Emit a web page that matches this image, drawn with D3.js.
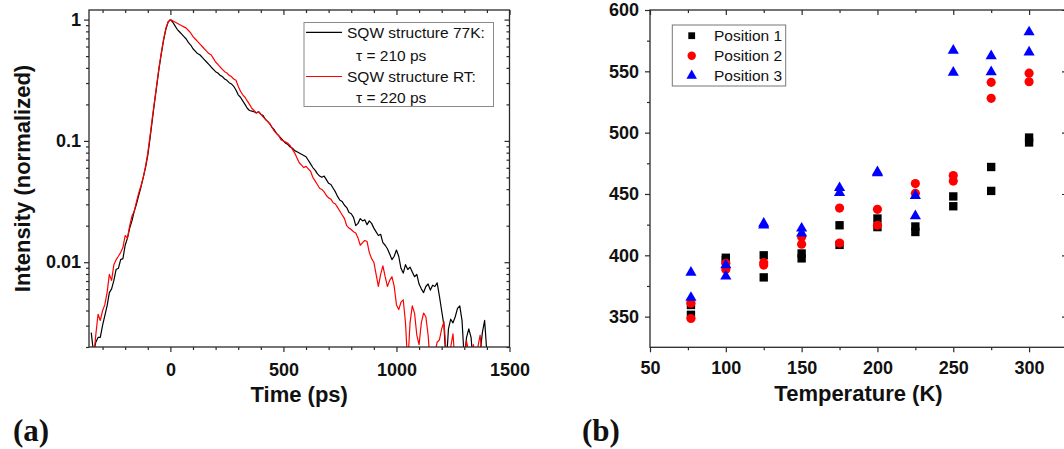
<!DOCTYPE html>
<html>
<head>
<meta charset="utf-8">
<script src="https://cdn.jsdelivr.net/npm/d3@7"></script>
<style>
  html, body { margin: 0; padding: 0; background: #fff; }
  svg { display: block; font-family: "Liberation Sans", Arial, sans-serif; }
</style>
</head>
<body>
<script>
// ---------------- Panel (a) data: time-resolved PL decay ----------------
const timeStartPs = -350;   // first sample time (ps)
const timeStepPs = 10;      // sampling interval (ps)

const intensity77K = [
  0.00263, 0.00178, 0.00219, 0.0024, 0.0024, 0.00302, 0.00363, 0.00437, 0.00562, 0.00603,
  0.00708, 0.00871, 0.00891, 0.0105, 0.0107, 0.0138, 0.0158, 0.0191, 0.0219, 0.0263,
  0.0302, 0.0355, 0.0417, 0.0501, 0.0603, 0.0759, 0.105, 0.148, 0.209, 0.288,
  0.398, 0.525, 0.676, 0.832, 0.955, 1.0,
  0.955, 0.891, 0.832, 0.794, 0.759, 0.724, 0.692, 0.646, 0.617, 0.575,
  0.550, 0.525, 0.513, 0.490, 0.468, 0.447, 0.427, 0.407, 0.389, 0.372,
  0.363, 0.347, 0.339, 0.324, 0.316, 0.302, 0.295, 0.282, 0.263, 0.240,
  0.229, 0.214, 0.200, 0.186, 0.178, 0.176, 0.174, 0.170, 0.174, 0.166,
  0.162, 0.151, 0.145, 0.138, 0.129, 0.123, 0.115, 0.110, 0.105, 0.100,
  0.0955, 0.0933, 0.0891, 0.0871, 0.0832, 0.0813, 0.0794, 0.0776, 0.0759, 0.0741,
  0.0692, 0.0646, 0.0603, 0.0575, 0.0537, 0.0513, 0.0501, 0.0513, 0.0479, 0.0447,
  0.0437, 0.0407, 0.0380, 0.0347, 0.0324, 0.0316, 0.0295, 0.0282, 0.0257, 0.0251,
  0.0234, 0.0200, 0.0209, 0.0229, 0.0219, 0.0224, 0.0204, 0.0219, 0.0209, 0.0191,
  0.0178, 0.0166, 0.0170, 0.0145, 0.0138, 0.0129, 0.0117, 0.0105, 0.0112, 0.0126,
  0.0112, 0.00891, 0.00813, 0.00955, 0.00871, 0.00912, 0.00832, 0.00759, 0.00794, 0.00661,
  0.00603, 0.00562, 0.00631, 0.00661, 0.00589, 0.00646, 0.00631, 0.00676, 0.00525, 0.00398,
  0.00302, 0.00141, 0.00282, 0.00339, 0.00316, 0.00355, 0.00417, 0.00437, 0.00331, 0.00158,
  0.0024, 0.00282, 0.0024, 0.00141, 0.00158, 0.00126, 0.00178, 0.00263, 0.00331, 0.00178, 0.00141
];

const intensityRT = [
  0.00141, 0.00158, 0.00251, 0.00372, 0.00331, 0.00398, 0.00447, 0.00562, 0.00794, 0.00708,
  0.00955, 0.0105, 0.0112, 0.0120, 0.0132, 0.0166, 0.0158, 0.0200, 0.0240, 0.0263,
  0.0316, 0.0372, 0.0427, 0.0501, 0.0617, 0.0794, 0.110, 0.155, 0.214, 0.295,
  0.407, 0.537, 0.692, 0.851, 0.955, 1.0,
  0.977, 0.955, 0.933, 0.912, 0.891, 0.871, 0.851, 0.813, 0.776, 0.724,
  0.692, 0.661, 0.631, 0.603, 0.575, 0.550, 0.525, 0.513, 0.479, 0.447,
  0.427, 0.407, 0.389, 0.372, 0.363, 0.347, 0.339, 0.324, 0.316, 0.282,
  0.257, 0.240, 0.229, 0.214, 0.200, 0.186, 0.178, 0.170, 0.174, 0.166,
  0.158, 0.151, 0.145, 0.138, 0.129, 0.120, 0.115, 0.110, 0.102, 0.100,
  0.0977, 0.0955, 0.0912, 0.0851, 0.0794, 0.0724, 0.0661, 0.0631, 0.0603, 0.0617,
  0.0589, 0.0562, 0.0501, 0.0468, 0.0437, 0.0407, 0.0398, 0.0380, 0.0355, 0.0339,
  0.0331, 0.0309, 0.0302, 0.0282, 0.0263, 0.0245, 0.0229, 0.0200, 0.0191, 0.0186,
  0.0178, 0.0174, 0.0158, 0.0138, 0.0145, 0.0151, 0.0148, 0.0120, 0.0107, 0.0100,
  0.00794, 0.00631, 0.00794, 0.00933, 0.00759, 0.00631, 0.00708, 0.00759, 0.00631, 0.00447,
  0.00407, 0.00468, 0.00490, 0.00316, 0.00141, 0.00316, 0.00437, 0.0038, 0.00251, 0.00209,
  0.00316, 0.0038, 0.00355, 0.00251, 0.00141, 0.00126, 0.00178, 0.00219, 0.00229, 0.00282,
  0.00324, 0.00178, 0.00112, 0.002, 0.00257, 0.00141, 0.00112, 0.00126, 0.00141, 0.00158,
  0.00224, 0.00178, 0.00141, 0.00209, 0.00158, 0.002, 0.00251, 0.00158, 0.00112, 0.00126,
  0.00141, 0.0019, 0.00112, 0.00112, 0.00195, 0.00112
];

const legendA = ["SQW structure 77K:", "\u03C4 = 210 ps", "SQW structure RT:", "\u03C4 = 220 ps"];
const timeTicksMajor = [0, 500, 1000, 1500];
const intensityTicksMajor = [0.01, 0.1, 1];
const intensityTickLabels = ["0.01", "0.1", "1"];

// ---------------- Panel (b) data ----------------
const temperatureK = [77, 77, 100, 100, 125, 125, 150, 150, 175, 175, 200, 200, 225, 225, 250, 250, 275, 275, 300, 300];
const position1 = [359.5, 351.5, 398, 396, 400, 382, 401.5, 397.5, 424.5, 408.5, 430, 423, 423.5, 419, 448, 440, 472, 452.5, 496, 492];
const position2 = [361, 348.5, 393.5, 388.5, 394, 392, 415, 409, 438.5, 410, 437.5, 424.5, 458.5, 450.5, 465, 460.5, 541, 528, 548.5, 541.5];
const position3 = [386, 365.5, 392, 383, 426, 424.5, 422, 418, 455, 451, 468, 467, 448.5, 432, 567, 549, 562.5, 549.5, 582, 565.5];
const seriesNames = ["Position 1", "Position 2", "Position 3"];
const tempTicksMajor = [50, 100, 150, 200, 250, 300];
const valueTicksMajor = [350, 400, 450, 500, 550, 600];

// ---------------- Drawing ----------------
const W = 1064, H = 449;
const FRAME = "#2a2a2a";
const SERIF = "'Liberation Serif', 'Times New Roman', serif";
const svg = d3.select("body").append("svg").attr("width", W).attr("height", H);

function styleAxis(g, fontSize) {
  g.select(".domain").remove();
  g.selectAll(".tick line").attr("stroke", FRAME).attr("stroke-width", 1.2);
  g.selectAll(".tick text").attr("fill", "#111").attr("font-size", fontSize)
    .attr("font-weight", "bold").attr("font-family", "'Liberation Sans', Arial, sans-serif");
}

// ===== Panel (a) =====
const xA = d3.scaleLinear().domain([-360, 1500]).range([89, 509.5]);
const yA = d3.scaleLog().domain([0.002, 1.2]).range([347, 10]);
const xAMinor = d3.range(-300, 1500, 100).filter(v => v % 500 !== 0);
const yAMinor = [];
[0.001, 0.01, 0.1].forEach(d => { for (let k = 2; k <= 9; k++) { const v = +(k * d).toPrecision(2); if (v >= 0.002 && v <= 1.2) yAMinor.push(v); } });

const gA = svg.append("g");
svg.append("defs").append("clipPath").attr("id", "clipA").append("rect")
  .attr("x", xA.range()[0]).attr("y", yA.range()[1])
  .attr("width", xA.range()[1] - xA.range()[0]).attr("height", yA.range()[0] - yA.range()[1]);

gA.append("g").attr("transform", `translate(0,${yA.range()[0]})`)
  .call(d3.axisBottom(xA).tickValues(timeTicksMajor).tickSize(5).tickPadding(11).tickFormat(d3.format("d")))
  .call(g => styleAxis(g, 18));
gA.append("g").attr("transform", `translate(0,${yA.range()[0]})`)
  .call(d3.axisBottom(xA).tickValues(xAMinor).tickSize(3).tickFormat(""))
  .call(g => styleAxis(g, 18));
gA.append("g").attr("transform", `translate(0,${yA.range()[1]})`)
  .call(d3.axisTop(xA).tickValues(timeTicksMajor).tickSize(-5).tickFormat(""))
  .call(g => styleAxis(g, 18));
gA.append("g").attr("transform", `translate(0,${yA.range()[1]})`)
  .call(d3.axisTop(xA).tickValues(xAMinor).tickSize(-3).tickFormat(""))
  .call(g => styleAxis(g, 18));
gA.append("g").attr("transform", `translate(${xA.range()[0]},0)`)
  .call(d3.axisLeft(yA).tickValues(intensityTicksMajor).tickSize(5).tickPadding(3)
    .tickFormat((d, i) => intensityTickLabels[i]))
  .call(g => styleAxis(g, 18));
gA.append("g").attr("transform", `translate(${xA.range()[0]},0)`)
  .call(d3.axisLeft(yA).tickValues(yAMinor).tickSize(3).tickFormat(""))
  .call(g => styleAxis(g, 18));
gA.append("g").attr("transform", `translate(${xA.range()[1]},0)`)
  .call(d3.axisRight(yA).tickValues(intensityTicksMajor).tickSize(-5).tickFormat(""))
  .call(g => styleAxis(g, 18));
gA.append("g").attr("transform", `translate(${xA.range()[1]},0)`)
  .call(d3.axisRight(yA).tickValues(yAMinor).tickSize(-3).tickFormat(""))
  .call(g => styleAxis(g, 18));

const lineA = d3.line().x((d, i) => xA(timeStartPs + i * timeStepPs)).y(d => yA(d));
const curves = gA.append("g").attr("clip-path", "url(#clipA)");
curves.append("path").datum(intensity77K).attr("d", lineA)
  .attr("fill", "none").attr("stroke", "#000").attr("stroke-width", 1.2).attr("stroke-linejoin", "round");
curves.append("path").datum(intensityRT).attr("d", lineA)
  .attr("fill", "none").attr("stroke", "#ff0000").attr("stroke-width", 1.2).attr("stroke-linejoin", "round");

gA.append("rect").attr("x", xA.range()[0]).attr("y", yA.range()[1])
  .attr("width", xA.range()[1] - xA.range()[0]).attr("height", yA.range()[0] - yA.range()[1])
  .attr("fill", "none").attr("stroke", FRAME).attr("stroke-width", 1.3);

const legA = gA.append("g");
legA.append("rect").attr("x", 304).attr("y", 22.5).attr("width", 189.5).attr("height", 84)
  .attr("fill", "#fff").attr("stroke", "#8a8a8a").attr("stroke-width", 1);
const legRowsY = [32.3, 55.7, 76.5, 97];
const legColors = ["#000", null, "#ff0000", null];
legendA.forEach((t, i) => {
  if (legColors[i]) {
    legA.append("line").attr("x1", 306).attr("x2", 342).attr("y1", legRowsY[i]).attr("y2", legRowsY[i])
      .attr("stroke", legColors[i]).attr("stroke-width", 1.2);
  }
  legA.append("text").attr("x", legColors[i] ? 347 : 356).attr("y", legRowsY[i]).attr("dy", "0.36em")
    .attr("font-size", 15.5).attr("fill", "#111").text(t);
});

gA.append("text").attr("x", (xA.range()[0] + xA.range()[1]) / 2).attr("y", 402)
  .attr("text-anchor", "middle").attr("font-size", 22).attr("font-weight", "bold").attr("fill", "#111")
  .text("Time (ps)");
gA.append("text").attr("transform", `translate(29.5,${(yA.range()[0] + yA.range()[1]) / 2}) rotate(-90)`)
  .attr("text-anchor", "middle").attr("font-size", 22).attr("font-weight", "bold").attr("fill", "#111")
  .text("Intensity (normalized)");
gA.append("text").attr("x", 13).attr("y", 441)
  .attr("font-family", SERIF).attr("font-size", 31)
  .attr("font-weight", "bold").attr("fill", "#111").text("(a)");

// ===== Panel (b) =====
const xB = d3.scaleLinear().domain([50, 325]).range([650, 1067]);
const yB = d3.scaleLinear().domain([325, 600]).range([347.3, 10]);
const xBMinor = [75, 125, 175, 225, 275];
const yBMinor = [375, 425, 475, 525, 575];
const gB = svg.append("g");

gB.append("g").attr("transform", `translate(0,${yB.range()[0]})`)
  .call(d3.axisBottom(xB).tickValues(tempTicksMajor).tickSize(5).tickPadding(9).tickFormat(d3.format("d")))
  .call(g => styleAxis(g, 18));
gB.append("g").attr("transform", `translate(0,${yB.range()[0]})`)
  .call(d3.axisBottom(xB).tickValues(xBMinor).tickSize(3).tickFormat(""))
  .call(g => styleAxis(g, 18));
gB.append("g").attr("transform", `translate(0,${yB.range()[1]})`)
  .call(d3.axisTop(xB).tickValues(tempTicksMajor).tickSize(-5).tickFormat(""))
  .call(g => styleAxis(g, 18));
gB.append("g").attr("transform", `translate(0,${yB.range()[1]})`)
  .call(d3.axisTop(xB).tickValues(xBMinor).tickSize(-3).tickFormat(""))
  .call(g => styleAxis(g, 18));
gB.append("g").attr("transform", `translate(${xB.range()[0]},0)`)
  .call(d3.axisLeft(yB).tickValues(valueTicksMajor).tickSize(5).tickPadding(6).tickFormat(d3.format("d")))
  .call(g => styleAxis(g, 18));
gB.append("g").attr("transform", `translate(${xB.range()[0]},0)`)
  .call(d3.axisLeft(yB).tickValues(yBMinor).tickSize(3).tickFormat(""))
  .call(g => styleAxis(g, 18));
gB.append("g").attr("transform", `translate(${xB.range()[1]},0)`)
  .call(d3.axisRight(yB).tickValues(valueTicksMajor).tickSize(-5).tickFormat(""))
  .call(g => styleAxis(g, 18));
gB.append("g").attr("transform", `translate(${xB.range()[1]},0)`)
  .call(d3.axisRight(yB).tickValues(yBMinor).tickSize(-3).tickFormat(""))
  .call(g => styleAxis(g, 18));

gB.append("rect").attr("x", xB.range()[0]).attr("y", yB.range()[1])
  .attr("width", xB.range()[1] - xB.range()[0]).attr("height", yB.range()[0] - yB.range()[1])
  .attr("fill", "none").attr("stroke", FRAME).attr("stroke-width", 1.3);

const series = [
  { name: seriesNames[0], values: position1, type: d3.symbolSquare, size: 70, color: "#000", lsize: 46 },
  { name: seriesNames[1], values: position2, type: d3.symbolCircle, size: 66, color: "#ff0000", lsize: 56 },
  { name: seriesNames[2], values: position3, type: d3.symbolTriangle, size: 54, color: "#0000ff", lsize: 48 }
];
series.forEach(s => {
  gB.append("g").selectAll("path").data(s.values).join("path")
    .attr("transform", (d, i) => `translate(${xB(temperatureK[i])},${yB(d)})`)
    .attr("d", d3.symbol().type(s.type).size(s.size))
    .attr("fill", s.color);
});

const legB = gB.append("g");
legB.append("rect").attr("x", 672.3).attr("y", 25).attr("width", 113.4).attr("height", 61)
  .attr("fill", "#fff").attr("stroke", "#777").attr("stroke-width", 1);
series.forEach((s, i) => {
  const yy = 35.7 + i * 20;
  legB.append("path").attr("transform", `translate(691.7,${yy})`)
    .attr("d", d3.symbol().type(s.type).size(s.lsize)).attr("fill", s.color);
  legB.append("text").attr("x", 714).attr("y", yy).attr("dy", "0.36em")
    .attr("font-size", 15.5).attr("fill", "#111").text(s.name);
});

gB.append("text").attr("x", (650 + 1067) / 2).attr("y", 401)
  .attr("text-anchor", "middle").attr("font-size", 22).attr("font-weight", "bold").attr("fill", "#111")
  .text("Temperature (K)");
gB.append("text").attr("x", 582).attr("y", 441)
  .attr("font-family", SERIF).attr("font-size", 31)
  .attr("font-weight", "bold").attr("fill", "#111").text("(b)");
</script>
</body>
</html>
